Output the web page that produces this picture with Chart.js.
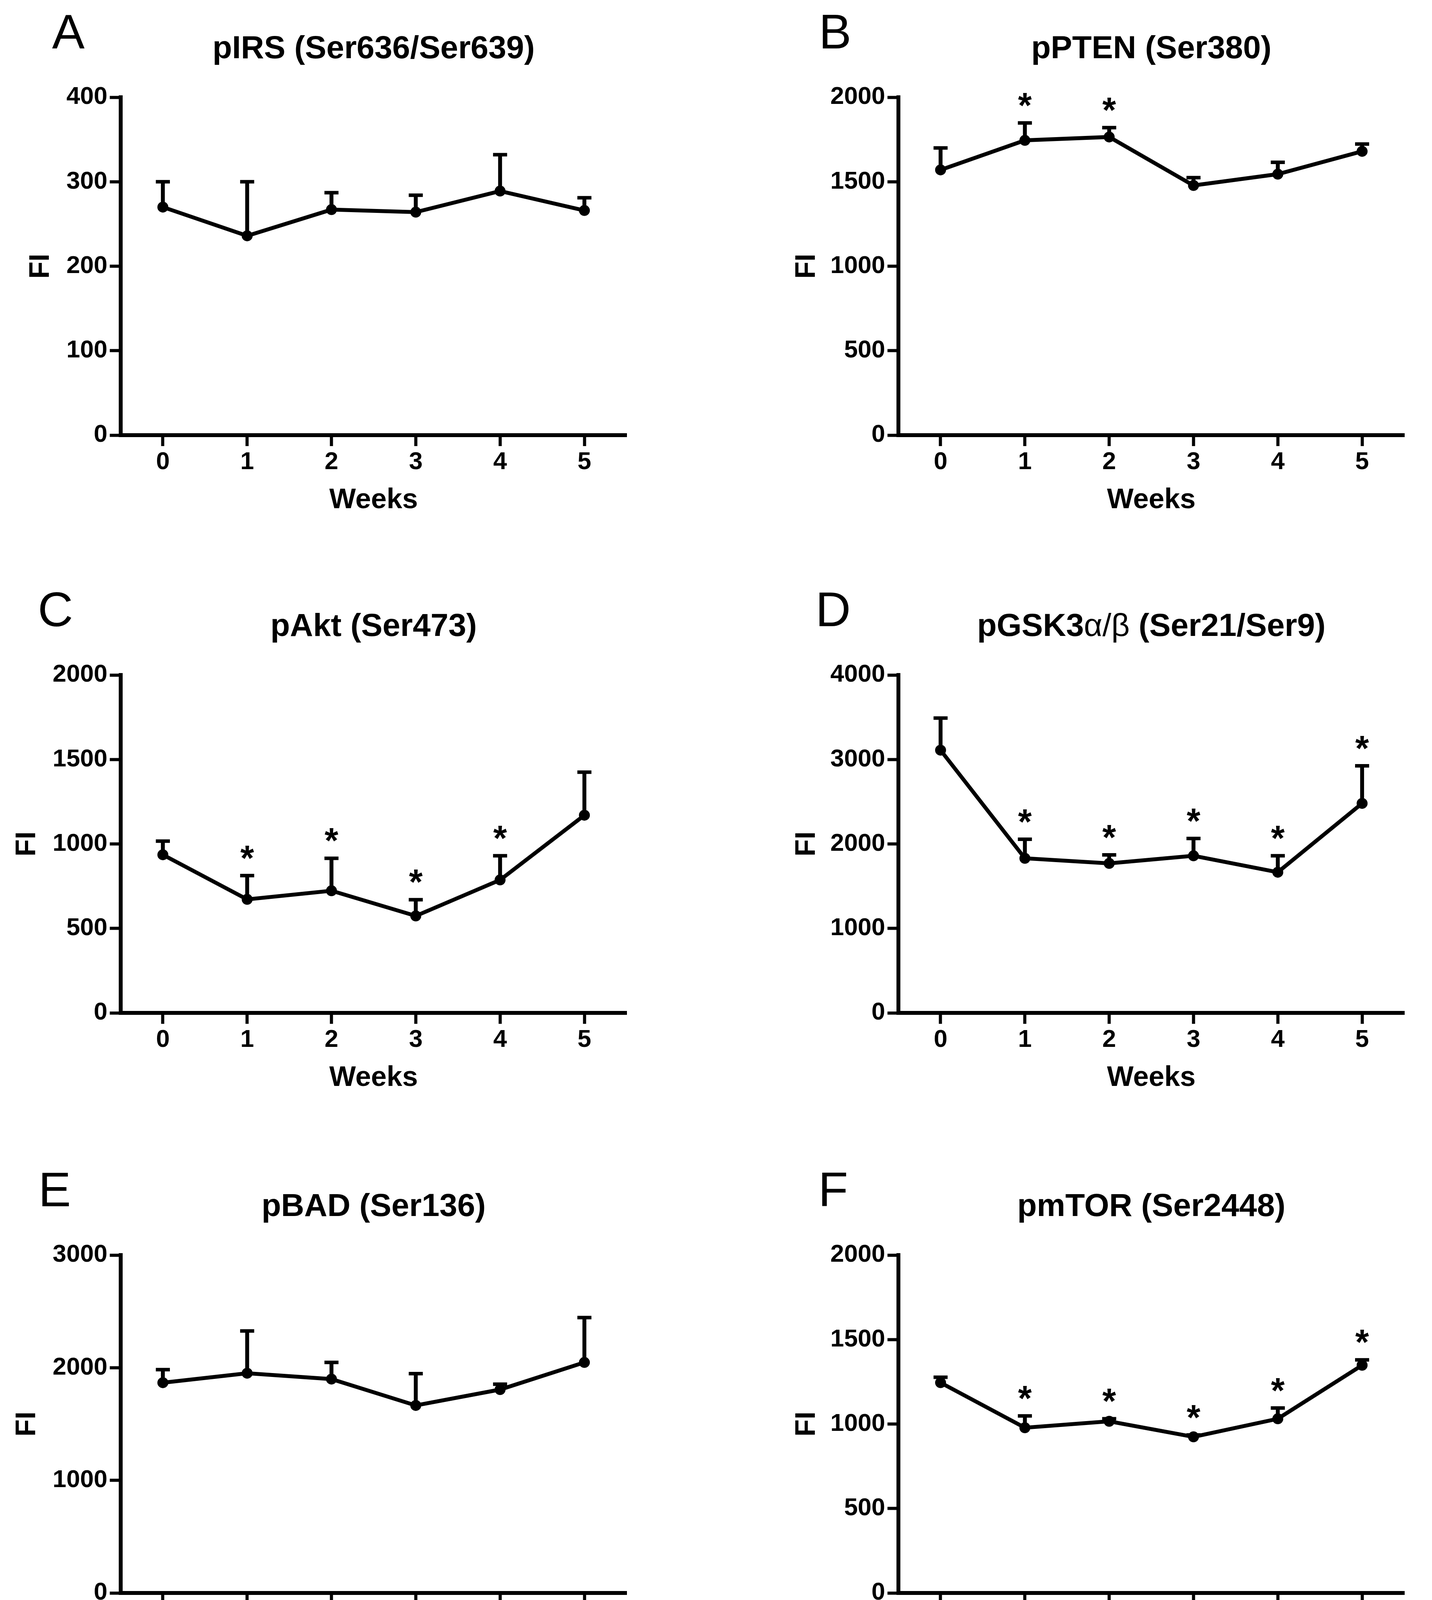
<!DOCTYPE html>
<html>
<head>
<meta charset="utf-8">
<title>Phospho-protein time course</title>
<script src="https://cdn.jsdelivr.net/npm/chart.js@4.4.1/dist/chart.umd.min.js"></script>
<style>
html, body { margin: 0; padding: 0; background: #fff; }
#page {
    position: relative;
    width: 3666px;
    height: 5804px;
    overflow: hidden;
    background: #fff;
    color: #000;
    font-family: 'Liberation Sans', Arial, sans-serif;
}
.panel { position: absolute; width: 1833px; height: 1359px; }
.letter {
    position: absolute;
    width: 200px;
    text-align: center;
    font-size: 125px;
    line-height: 125px;
    font-weight: normal;
}
.title {
    position: absolute;
    width: 1600px;
    text-align: center;
    font-size: 82px;
    line-height: 94px;
    font-weight: bold;
    white-space: nowrap;
}
.title .sym { font-weight: normal; }
</style>
</head>
<body>
<div id="page"></div>
<script>
// Weeks on the x axis
const weeks = ['0', '1', '2', '3', '4', '5'];

// A - pIRS (Ser636/Ser639)
const pIRS = [270, 236, 267, 264, 289, 266];
const pIRSErr = [300, 300, 287, 284, 332, 281];
const pIRSSig = [0, 0, 0, 0, 0, 0];

// B - pPTEN (Ser380)
const pPTEN = [1570, 1745, 1765, 1478, 1545, 1680];
const pPTENErr = [1700, 1848, 1820, 1524, 1615, 1723];
const pPTENSig = [0, 1, 1, 0, 0, 0];

// C - pAkt (Ser473)
const pAkt = [936, 672, 723, 574, 787, 1170];
const pAktErr = [1017, 813, 915, 670, 930, 1425];
const pAktSig = [0, 1, 1, 1, 1, 0];

// D - pGSK3a/b (Ser21/Ser9)
const pGSK3 = [3110, 1830, 1770, 1860, 1665, 2480];
const pGSK3Err = [3490, 2055, 1870, 2065, 1860, 2925];
const pGSK3Sig = [0, 1, 1, 1, 1, 1];

// E - pBAD (Ser136)
const pBAD = [1867, 1951, 1899, 1665, 1806, 2047];
const pBADErr = [1983, 2326, 2047, 1947, 1854, 2445];
const pBADSig = [0, 0, 0, 0, 0, 0];

// F - pmTOR (Ser2448)
const pmTOR = [1245, 978, 1016, 924, 1031, 1348];
const pmTORErr = [1277, 1048, 1031, 935, 1095, 1380];
const pmTORSig = [0, 1, 1, 1, 1, 1];

// G - pP70 S6 Kinase (Thr389)
const pP70 = [495, 600, 604, 636, 580, 640];
const pP70Err = [548, 649, 638, 694, 614, 697];
const pP70Sig = [0, 1, 1, 1, 1, 1];

// H - pS6RP (Ser235/Ser236)
const pS6RP = [1264, 270, 369, 241, 451, 810];
const pS6RPErr = [1368, 306, 417, 322, 566, 1019];
const pS6RPSig = [0, 1, 1, 1, 1, 1];

// Y axis tick settings per panel
const yMaxes = [400, 2000, 2000, 4000, 3000, 2000, 800, 1500];
const ySteps = [100, 500, 500, 1000, 1000, 500, 200, 500];

// Layout of the 2x4 grid
const ROW_TOP = [0, 1479, 2964, 4445];
const COL_LEFT = [0, 1833];
const PLOT_LEFT = [309, 467];
const PLOT_RIGHT = [1604, 1762];
const PLOT_TOP = 249;
const PLOT_BOTTOM = 1114;
const PANEL_H = 1359;

const panels = [
    { letter: 'A', title: 'pIRS (Ser636/Ser639)', row: 0, col: 0, values: pIRS, err: pIRSErr, sig: pIRSSig, fiX: 105, letterX: 175 },
    { letter: 'B', title: 'pPTEN (Ser380)', row: 0, col: 1, values: pPTEN, err: pPTENErr, sig: pPTENSig, fiX: 233, letterX: 305 },
    { letter: 'C', title: 'pAkt (Ser473)', row: 1, col: 0, values: pAkt, err: pAktErr, sig: pAktSig, fiX: 70, letterX: 142 },
    { letter: 'D', title: 'pGSK3<span class="sym">\u03B1/\u03B2</span> (Ser21/Ser9)', row: 1, col: 1, values: pGSK3, err: pGSK3Err, sig: pGSK3Sig, fiX: 233, letterX: 300 },
    { letter: 'E', title: 'pBAD (Ser136)', row: 2, col: 0, values: pBAD, err: pBADErr, sig: pBADSig, fiX: 70, letterX: 140 },
    { letter: 'F', title: 'pmTOR (Ser2448)', row: 2, col: 1, values: pmTOR, err: pmTORErr, sig: pmTORSig, fiX: 233, letterX: 300 },
    { letter: 'G', title: 'pP70 S6 Kinase (Thr389)', row: 3, col: 0, values: pP70, err: pP70Err, sig: pP70Sig, fiX: 105, letterX: 186 },
    { letter: 'H', title: 'pS6RP (Ser235/Ser236)', row: 3, col: 1, values: pS6RP, err: pS6RPErr, sig: pS6RPSig, fiX: 233, letterX: 308 }
];

Chart.defaults.font.family = "'Liberation Sans', Arial, sans-serif";
Chart.defaults.color = '#000';

// Upper error bars (SEM) and significance stars
const errorBarPlugin = {
    id: 'errorBars',
    beforeDatasetsDraw(chart) {
        const ds = chart.data.datasets[0];
        const meta = chart.getDatasetMeta(0);
        const yScale = chart.scales.y;
        const ctx = chart.ctx;
        ctx.save();
        ctx.strokeStyle = '#000';
        ctx.lineCap = 'butt';
        meta.data.forEach((pt, i) => {
            const top = yScale.getPixelForValue(ds.errTop[i]);
            ctx.lineWidth = 10;
            ctx.beginPath();
            ctx.moveTo(pt.x, pt.y);
            ctx.lineTo(pt.x, top);
            ctx.stroke();
            ctx.lineWidth = 9;
            ctx.beginPath();
            ctx.moveTo(pt.x - 18, top);
            ctx.lineTo(pt.x + 18, top);
            ctx.stroke();
        });
        ctx.restore();
    },
    afterDatasetsDraw(chart) {
        const ds = chart.data.datasets[0];
        const meta = chart.getDatasetMeta(0);
        const yScale = chart.scales.y;
        const ctx = chart.ctx;
        const size = 90;
        ctx.save();
        ctx.fillStyle = '#000';
        ctx.font = 'bold ' + size + "px 'Liberation Sans', Arial, sans-serif";
        ctx.textAlign = 'center';
        ctx.textBaseline = 'alphabetic';
        meta.data.forEach((pt, i) => {
            if (!ds.sig[i]) return;
            const top = yScale.getPixelForValue(ds.errTop[i]);
            const centerY = top - 66;
            ctx.fillText('*', pt.x, centerY + size * 0.58);
        });
        ctx.restore();
    }
};

function makePanel(p, idx) {
    const page = document.getElementById('page');
    const left = COL_LEFT[p.col];
    const top = ROW_TOP[p.row];

    const letter = document.createElement('div');
    letter.className = 'letter';
    letter.textContent = p.letter;
    letter.style.left = (left + p.letterX - 100) + 'px';
    letter.style.top = (top + 18) + 'px';
    page.appendChild(letter);

    const wrap = document.createElement('div');
    wrap.className = 'panel';
    wrap.style.left = left + 'px';
    wrap.style.top = top + 'px';
    const canvas = document.createElement('canvas');
    canvas.width = 1833;
    canvas.height = PANEL_H;
    wrap.appendChild(canvas);
    page.appendChild(wrap);

    const title = document.createElement('div');
    title.className = 'title';
    title.innerHTML = p.title;
    const plotCenter = (PLOT_LEFT[p.col] + PLOT_RIGHT[p.col]) / 2;
    title.style.left = (left + plotCenter - 800) + 'px';
    title.style.top = (top + 74) + 'px';
    page.appendChild(title);

    const tickFont = { size: 63, weight: 'bold' };
    const axisTitleFont = { size: 72, weight: 'bold', lineHeight: 1.2 };
    const gridOpts = {
        display: true,
        drawOnChartArea: false,
        drawTicks: true,
        tickLength: 28,
        tickWidth: 8,
        tickColor: '#000'
    };
    const borderOpts = { display: true, color: '#000', width: 10 };

    new Chart(canvas, {
        type: 'line',
        data: {
            labels: weeks,
            datasets: [{
                data: p.values,
                errTop: p.err,
                sig: p.sig,
                borderColor: '#000',
                borderWidth: 10,
                pointRadius: 14,
                pointBackgroundColor: '#000',
                pointBorderColor: '#000',
                pointBorderWidth: 0,
                tension: 0,
                fill: false,
                clip: false
            }]
        },
        options: {
            responsive: false,
            animation: false,
            devicePixelRatio: 1,
            layout: {
                padding: { top: PLOT_TOP, left: 0, right: 1833 - PLOT_RIGHT[p.col], bottom: 0 }
            },
            plugins: {
                legend: { display: false },
                tooltip: { enabled: false },
                title: { display: false }
            },
            scales: {
                x: {
                    type: 'category',
                    offset: true,
                    grid: Object.assign({ offset: false }, gridOpts),
                    border: borderOpts,
                    ticks: { color: '#000', font: tickFont, padding: 4, maxRotation: 0, autoSkip: false },
                    title: { display: true, text: 'Weeks', color: '#000', font: axisTitleFont, padding: { top: 0, bottom: 35 } },
                    afterFit(scale) { scale.height = PANEL_H - PLOT_BOTTOM; }
                },
                y: {
                    type: 'linear',
                    min: 0,
                    max: yMaxes[idx],
                    grid: gridOpts,
                    border: borderOpts,
                    ticks: {
                        color: '#000',
                        font: tickFont,
                        padding: 6,
                        stepSize: ySteps[idx],
                        callback: value => String(value)
                    },
                    title: { display: true, text: 'FI', color: '#000', font: axisTitleFont, padding: { top: p.fiX - 43, bottom: 0 } },
                    afterFit(scale) { scale.width = PLOT_LEFT[p.col]; }
                }
            }
        },
        plugins: [errorBarPlugin]
    });
}

panels.forEach(makePanel);
</script>
</body>
</html>
